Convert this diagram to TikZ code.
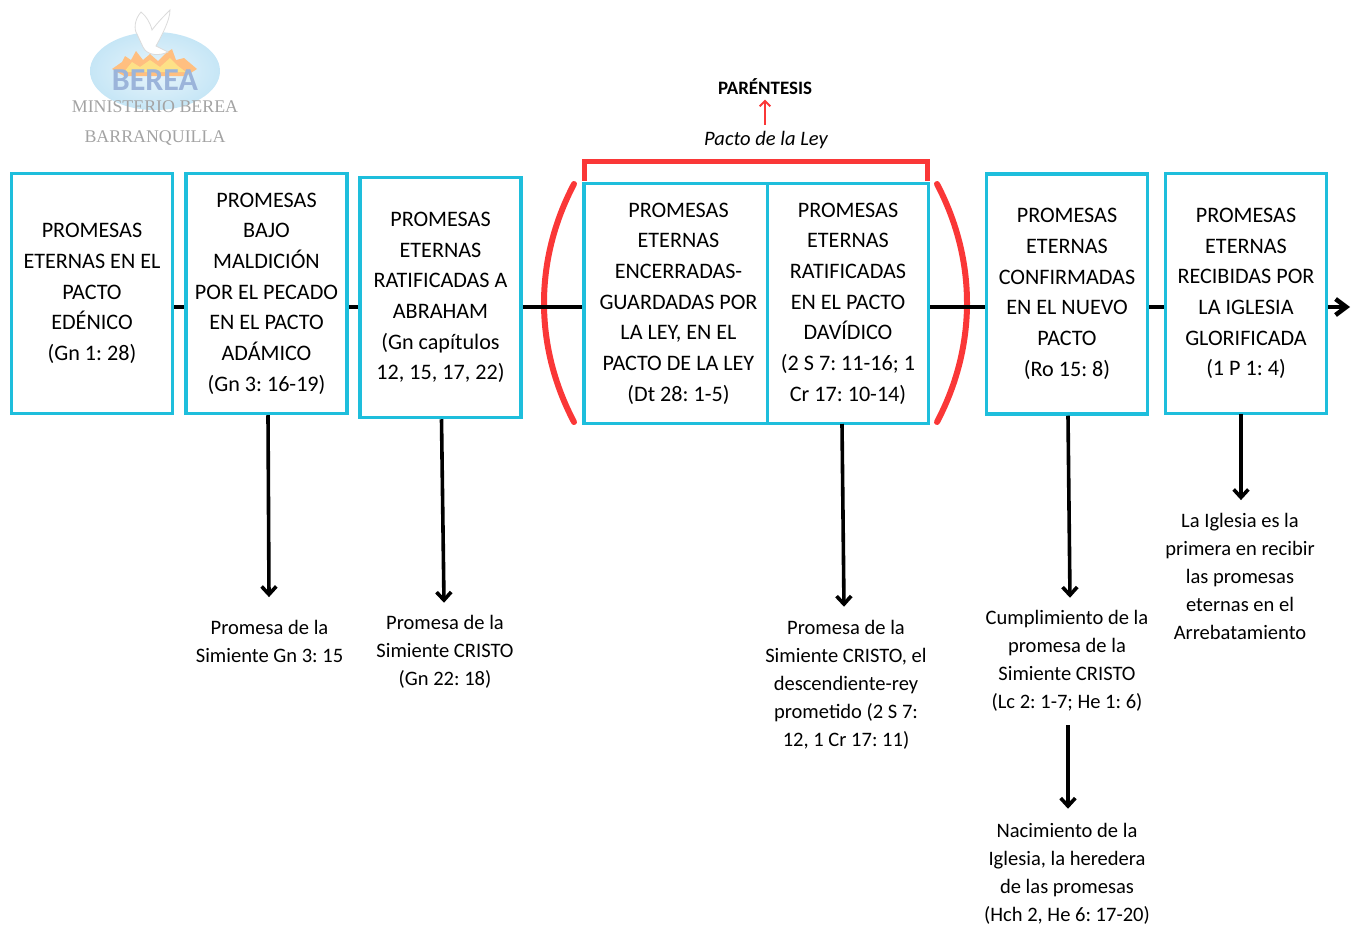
\documentclass[tikz,border=0pt]{standalone}
\usepackage{fontspec}
\setmainfont{Carlito}
\newfontfamily\logofont{Liberation Serif}
\usetikzlibrary{arrows.meta, calc}
\definecolor{boxblue}{RGB}{30,190,220}
\definecolor{parred}{RGB}{250,55,55}
\definecolor{logoblue}{RGB}{155,180,218}
\definecolor{logocielo}{RGB}{198,230,246}
\tikzset{
	caja/.style={draw=boxblue, line width=2.6pt, fill=white, minimum width=121pt, minimum height=180pt, inner sep=0pt, align=center, font=\fontsize{16.6}{23}\selectfont},
	nota/.style={align=center, font=\fontsize{15.4}{21}\selectfont},
	flecha/.style={line width=2.7pt, -{Straight Barb[length=6pt,width=11pt,line width=2.7pt]}},
	linea/.style={line width=3pt},
	rojo/.style={draw=parred, line width=3.6pt},
	logotexto/.style={text=black!36, font=\logofont\fontsize{13.4}{16}\selectfont},
}
\begin{document}
\frenchspacing
\begin{tikzpicture}[x=0.75pt, y=-0.75pt]
	\useasboundingbox (0,0) rectangle (1357,926);
	% logo
	\shade[inner color=white!60!logocielo, outer color=logocielo] (155,71) ellipse (65 and 39);
	\fill[orange!50] (112,69) -- (122,62) -- (125,56) -- (131,60) -- (136,51) -- (143,60) -- (150,54) -- (158,61) -- (166,53) -- (172,49) -- (176,60) -- (184,58) -- (197,69) -- (186,76) -- (124,76) -- cycle;
	\fill[yellow!55!orange!45] (124,72) -- (132,62) -- (140,67) -- (150,60) -- (160,67) -- (170,58) -- (178,66) -- (186,72) -- cycle;
	\filldraw[fill=white, draw=black!14, line width=0.6pt] (141,12) .. controls (134,20) and (134,30) .. (137,34) -- (143,47) .. controls (147,56) and (160,56) .. (168,52) -- (156,46) .. controls (162,35) and (170,20) .. (170,10) .. controls (164,16) and (158,22) .. (152,30) .. controls (150,22) and (146,16) .. (141,12) -- cycle;
	\node[text=logoblue, font=\bfseries\fontsize{24}{24}\selectfont] (berea) at (155,80) {BEREA};
	\node[logotexto] (ministerio) at (155,107) {MINISTERIO BEREA};
	\node[logotexto] (barranquilla) at (155,138) {BARRANQUILLA};
	% cajas
	\node[caja] (eterna) at (92,293.5) {PROMESAS\\ETERNAS EN EL\\PACTO\\EDÉNICO\\(Gn 1: 28)};
	\node[caja] (maldicion) at (266.5,293.5) {PROMESAS\\BAJO\\MALDICIÓN\\POR EL PECADO\\EN EL PACTO\\ADÁMICO\\(Gn 3: 16-19)};
	\node[caja] (abraham) at (440.5,297.5) {PROMESAS\\ETERNAS\\RATIFICADAS A\\ABRAHAM\\(Gn capítulos\\12, 15, 17, 22)};
	\node[caja, minimum width=141.75pt] (ley) at (678.5,303.5) {PROMESAS\\ETERNAS\\ENCERRADAS-\\GUARDADAS POR\\LA LEY, EN EL\\PACTO DE LA LEY\\(Dt 28: 1-5)};
	\node[caja] (david) at (848,303.5) {PROMESAS\\ETERNAS\\RATIFICADAS\\EN EL PACTO\\DAVÍDICO\\(2 S 7: 11-16; 1\\Cr 17: 10-14)};
	\node[caja] (nuevo) at (1067,294) {PROMESAS\\ETERNAS\\CONFIRMADAS\\EN EL NUEVO\\PACTO\\(Ro 15: 8)};
	\node[caja] (iglesia) at (1246,293.5) {PROMESAS\\ETERNAS\\RECIBIDAS POR\\LA IGLESIA\\GLORIFICADA\\(1 P 1: 4)};
	% parentesis
	\node[font=\bfseries\fontsize{14.2}{15}\selectfont] (parentesis) at (765,87) {PARÉNTESIS};
	\node[font=\itshape\fontsize{15.4}{16}\selectfont] (pactoley) at (766,140) {Pacto de la Ley};
	\draw[parred, line width=1.4pt, -{Straight Barb[length=4pt,width=8pt]}] (pactoley.north -| parentesis) ++(0,-2) -- (parentesis.south);
	\draw[rojo] ($(ley.north west)+(2.5,-1)$) -- ++(0,-19) -| ($(david.north east)+(-3,-1)$);
	\draw[rojo, line width=4.5pt, line cap=round] (574,184) .. controls (534,260) and (534,346) .. (574,422);
	\draw[rojo, line width=4.5pt, line cap=round] (937,184) .. controls (977,260) and (977,346) .. (937,422);
	% linea
	\coordinate (eje) at (0,307);
	\coordinate (punta) at (1350,307);
	\draw[linea] (eterna.east |- eje) -- (maldicion.west |- eje);
	\draw[linea] (maldicion.east |- eje) -- (abraham.west |- eje);
	\draw[linea] (abraham.east |- eje) -- (ley.west |- eje);
	\draw[linea] (david.east |- eje) -- (nuevo.west |- eje);
	\draw[linea] (nuevo.east |- eje) -- (iglesia.west |- eje);
	\draw[linea, -{Straight Barb[length=8pt,width=12pt,line width=3.4pt]}] (iglesia.east |- eje) -- (punta);
	% notas
	\node[nota] (simiente) at (269.5,641) {Promesa de la\\Simiente Gn 3: 15};
	\node[nota] (cristo) at (445,652) {Promesa de la\\Simiente CRISTO\\(Gn 22: 18)};
	\node[nota] (rey) at (846,685) {Promesa de la\\Simiente CRISTO, el\\descendiente-rey\\prometido (2 S 7:\\12, 1 Cr 17: 11)};
	\node[nota] (cumplimiento) at (1067,661) {Cumplimiento de la\\promesa de la\\Simiente CRISTO\\(Lc 2: 1-7; He 1: 6)};
	\node[nota] (nacimiento) at (1067,874) {Nacimiento de la\\Iglesia, la heredera\\de las promesas\\(Hch 2, He 6: 17-20)};
	\node[nota] (rapto) at (1240,576) {La Iglesia es la\\primera en recibir\\las promesas\\eternas en el\\Arrebatamiento};
	% flechas
	\draw[flecha] (maldicion.south) ++(1.5,0) -- ($(simiente.north)+(-0.5,-18)$);
	\draw[flecha] (abraham.south) ++(1,0) -- ($(cristo.north)+(-1,-8)$);
	\draw[flecha] (842,424) -- ($(rey.north)+(-2,-9)$);
	\draw[flecha] (nuevo.south) ++(1,0) -- ($(cumplimiento.north)+(3,-8)$);
	\draw[flecha] (cumplimiento.south) ++(1,9) -- ($(nacimiento.north)+(1,-10)$);
	\draw[flecha] (1241,414) -- ($(rapto.north)+(1,-8)$);
\end{tikzpicture}
\end{document}
